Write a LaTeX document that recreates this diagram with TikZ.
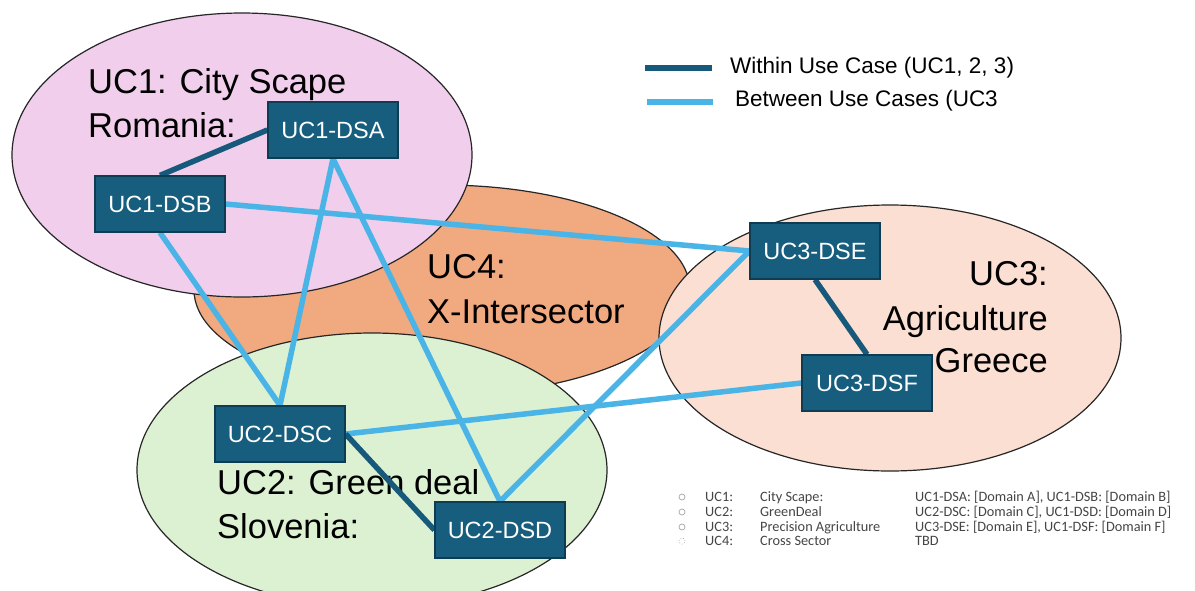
\documentclass[tikz,border=0pt]{standalone}
\usepackage{fontspec}
\setmainfont{Liberation Sans}
\newfontfamily\listfont{Carlito}
\definecolor{boxfill}{HTML}{175E7E}
\definecolor{boxedge}{HTML}{0E3C52}
\definecolor{inlink}{HTML}{17597A}
\definecolor{crosslink}{HTML}{4BB4E6}
\definecolor{ucpink}{HTML}{F1CEEC}
\definecolor{ucorange}{HTML}{F1A980}
\definecolor{ucpeach}{HTML}{FBDFD2}
\definecolor{ucgreen}{HTML}{DCF1D2}
\definecolor{listgray}{HTML}{454545}
\pgfdeclarelayer{regions}
\pgfdeclarelayer{links}
\pgfsetlayers{regions,links,main}
\tikzset{
  dsbox/.style={draw=boxedge, line width=1.2pt, fill=boxfill, minimum width=130pt,
    minimum height=56pt, inner sep=0pt, text=white, font=\fontsize{23.5}{27}\selectfont},
  within/.style={draw=inlink, line width=5.5pt},
  between/.style={draw=crosslink, line width=5.5pt},
  region/.style={draw=black!85, line width=1.2pt},
  uclabel/.style={font=\fontsize{34.5}{40}\selectfont, inner sep=0pt, text=black},
  legendtext/.style={font=\fontsize{22.5}{26}\selectfont, inner sep=0pt, anchor=base west},
  listtext/.style={font=\listfont\fontsize{14.3}{17}\selectfont, text=listgray, inner sep=0pt, anchor=base west},
  bullet/.style={circle, draw=gray!70, line width=0.7pt, minimum size=6pt, inner sep=0pt},
}
\begin{document}
\begin{tikzpicture}[x=1pt,y=-1pt]
\useasboundingbox (0,0) rectangle (1195,590);
\clip (0,0) rectangle (1195,590);

% use-case regions and their titles
\begin{pgfonlayer}{regions}
  \fill[white] (0,0) rectangle (1195,590);
  \path[region, fill=ucorange] (442,290) ellipse [x radius=248pt, y radius=105pt];
  \path[region, fill=ucpink]   (242,155) ellipse [x radius=230pt, y radius=142pt];
  \path[region, fill=ucpeach]  (890,338) ellipse [x radius=231pt, y radius=133pt];
  \path[region, fill=ucgreen]  (372,470) ellipse [x radius=235pt, y radius=137pt];

  \node[uclabel, anchor=base west] (uc1a) at (88,93)  {UC1: City Scape};
  \node[uclabel, anchor=base west] (uc1b) at (88,137) {Romania:};
  \node[uclabel, anchor=base west] (uc4a) at (427,278) {UC4:};
  \node[uclabel, anchor=base west] (uc4b) at (427,323) {X-Intersector};
  \node[uclabel, anchor=base east] (uc3a) at (1048,285) {UC3:};
  \node[uclabel, anchor=base east] (uc3b) at (1048,330) {Agriculture};
  \node[uclabel, anchor=base east] (uc3c) at (1048,372) {Greece};
  \node[uclabel, anchor=base west] (uc2a) at (217,494) {UC2: Green deal};
  \node[uclabel, anchor=base west] (uc2b) at (217,538) {Slovenia:};
\end{pgfonlayer}

% data spaces
\node[dsbox] (dsa) at (333,130) {UC1-DSA};
\node[dsbox] (dsb) at (160,204) {UC1-DSB};
\node[dsbox] (dse) at (815,251) {UC3-DSE};
\node[dsbox] (dsf) at (867,383) {UC3-DSF};
\node[dsbox] (dsc) at (280,434) {UC2-DSC};
\node[dsbox] (dsd) at (500,530) {UC2-DSD};

% links
\begin{pgfonlayer}{links}
  \draw[between] (dsb.east) -- (dse.west);
  \draw[between] (dsb.south) -- (dsc.north);
  \draw[between] (dsa.south) -- (dsc.north);
  \draw[between] (dsa.south) -- (dsd.north);
  \draw[between] (dse.west) -- (dsd.north);
  \draw[between] (dsc.east) -- (dsf.west);
  \draw[within] (dsa.west) -- (dsb.north);
  \draw[within] (dse.south) -- (dsf.north);
  \draw[within] (dsc.east) -- (dsd.west);
\end{pgfonlayer}

% legend
\coordinate (lw1) at (645,68);
\coordinate (lw2) at (712,68);
\coordinate (lb1) at (647,102);
\coordinate (lb2) at (713,102);
\draw[within] (lw1) -- (lw2);
\draw[between] (lb1) -- (lb2);
\node[legendtext] (lwt) at (730,73)  {Within Use Case (UC1, 2, 3)};
\node[legendtext] (lbt) at (735,106) {Between Use Cases (UC3};

% use-case list
\node[bullet] (b1) at (682,497) {};
\node[bullet] (b2) at (682,512) {};
\node[bullet] (b3) at (682,527) {};
\node[bullet, dotted] (b4) at (682,541) {};
\node[listtext] (l1a) at (705,501) {UC1:};
\node[listtext] (l1b) at (760,501) {City Scape:};
\node[listtext] (l1c) at (915,501) {UC1-DSA: [Domain A], UC1-DSB: [Domain B]};
\node[listtext] (l2a) at (705,516) {UC2:};
\node[listtext] (l2b) at (760,516) {GreenDeal};
\node[listtext] (l2c) at (915,516) {UC2-DSC: [Domain C], UC1-DSD: [Domain D]};
\node[listtext] (l3a) at (705,531) {UC3:};
\node[listtext] (l3b) at (760,531) {Precision Agriculture};
\node[listtext] (l3c) at (915,531) {UC3-DSE: [Domain E], UC1-DSF: [Domain F]};
\node[listtext] (l4a) at (705,545) {UC4:};
\node[listtext] (l4b) at (760,545) {Cross Sector};
\node[listtext] (l4c) at (915,545) {TBD};
\end{tikzpicture}
\end{document}
